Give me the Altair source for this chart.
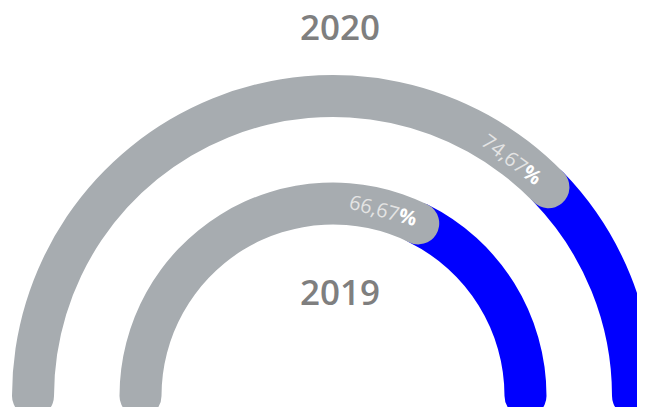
import math
import altair as alt
import pandas as pd

# ---- data ----
years = ["2020", "2019"]
values = [75.5, 64.6]          # arc extent as drawn (percent of the half circle)
labels = ["74,67", "66,67"]    # label text as printed

# ---- style / layout ----
GRAY = "#a7acb0"
BLUE = "#0000ff"
TITLE_COLOR = "#7f7f7f"
CX, CY = 325, 388
RING_R = {"2020": 300, "2019": 192.5}
LABEL_R = {"2020": 296, "2019": 192}
LABEL_BACK = {"2020": 46, "2019": 38}   # arc length (px) from arc end back to label centre
ANCHOR_SHIFT = 17                       # px from label centre to number/% junction
TITLE_Y = {"2020": 32, "2019": 297}
TITLE_X = 332
HALF = 21
FS = 20

layers = []
for year, val, lab in zip(years, values, labels):
    r = RING_R[year]
    lr = LABEL_R[year]
    d = math.asin(HALF / r)
    df = pd.DataFrame({"year": [year], "value": [val], "label": [lab], "pct": ["%"]})
    base = alt.Chart(df).transform_calculate(
        vt="-PI/2 + PI*datum.value/100",
        start=f"-PI/2 - {d}",
        full=f"PI/2 + {d}",
    ).transform_calculate(
        end=f"datum.vt + {d}",
        bstart=f"datum.vt - {d}",
        lc=f"datum.vt - {LABEL_BACK[year]}/{lr}",
    ).transform_calculate(
        la=f"datum.lc + {ANCHOR_SHIFT}/{lr}",
        rot="datum.lc*180/PI",
    )

    common = dict(x=alt.value(CX), y=alt.value(CY))

    blue = base.mark_arc(cornerRadius=HALF, color=BLUE).encode(
        theta=alt.Theta("bstart:Q", scale=None, stack=None),
        theta2=alt.Theta2("full"),
        radius=alt.value(r + HALF),
        radius2=alt.value(r - HALF),
        **common,
    )
    gray = base.mark_arc(cornerRadius=HALF, color=GRAY).encode(
        theta=alt.Theta("start:Q", scale=None, stack=None),
        theta2=alt.Theta2("end"),
        radius=alt.value(r + HALF),
        radius2=alt.value(r - HALF),
        **common,
    )
    num = base.mark_text(
        align="right", baseline="middle", fontSize=FS, font="Open Sans",
        color="#e4e4e4",
    ).encode(
        text="label:N",
        theta=alt.Theta("la:Q", scale=None, stack=None),
        radius=alt.value(lr),
        angle=alt.Angle("rot:Q", scale=None),
        **common,
    )
    pct = base.mark_text(
        align="left", baseline="middle", fontSize=FS, font="Open Sans",
        fontWeight="bold", color="#ffffff",
    ).encode(
        text="pct:N",
        theta=alt.Theta("la:Q", scale=None, stack=None),
        radius=alt.value(lr),
        angle=alt.Angle("rot:Q", scale=None),
        **common,
    )
    title = alt.Chart(df).mark_text(
        align="center", baseline="alphabetic", fontSize=35, font="Open Sans",
        fontWeight=600, color=TITLE_COLOR,
    ).encode(text="year:N", x=alt.value(TITLE_X), y=alt.value(TITLE_Y[year]))
    layers += [blue, gray, num, pct, title]

chart = alt.layer(*layers).properties(
    width=629, height=399, padding=0,
    autosize=alt.AutoSizeParams(type="none"),
).configure_view(stroke=None)

chart.save("out.html", embed_options={"renderer": "svg", "actions": False})
